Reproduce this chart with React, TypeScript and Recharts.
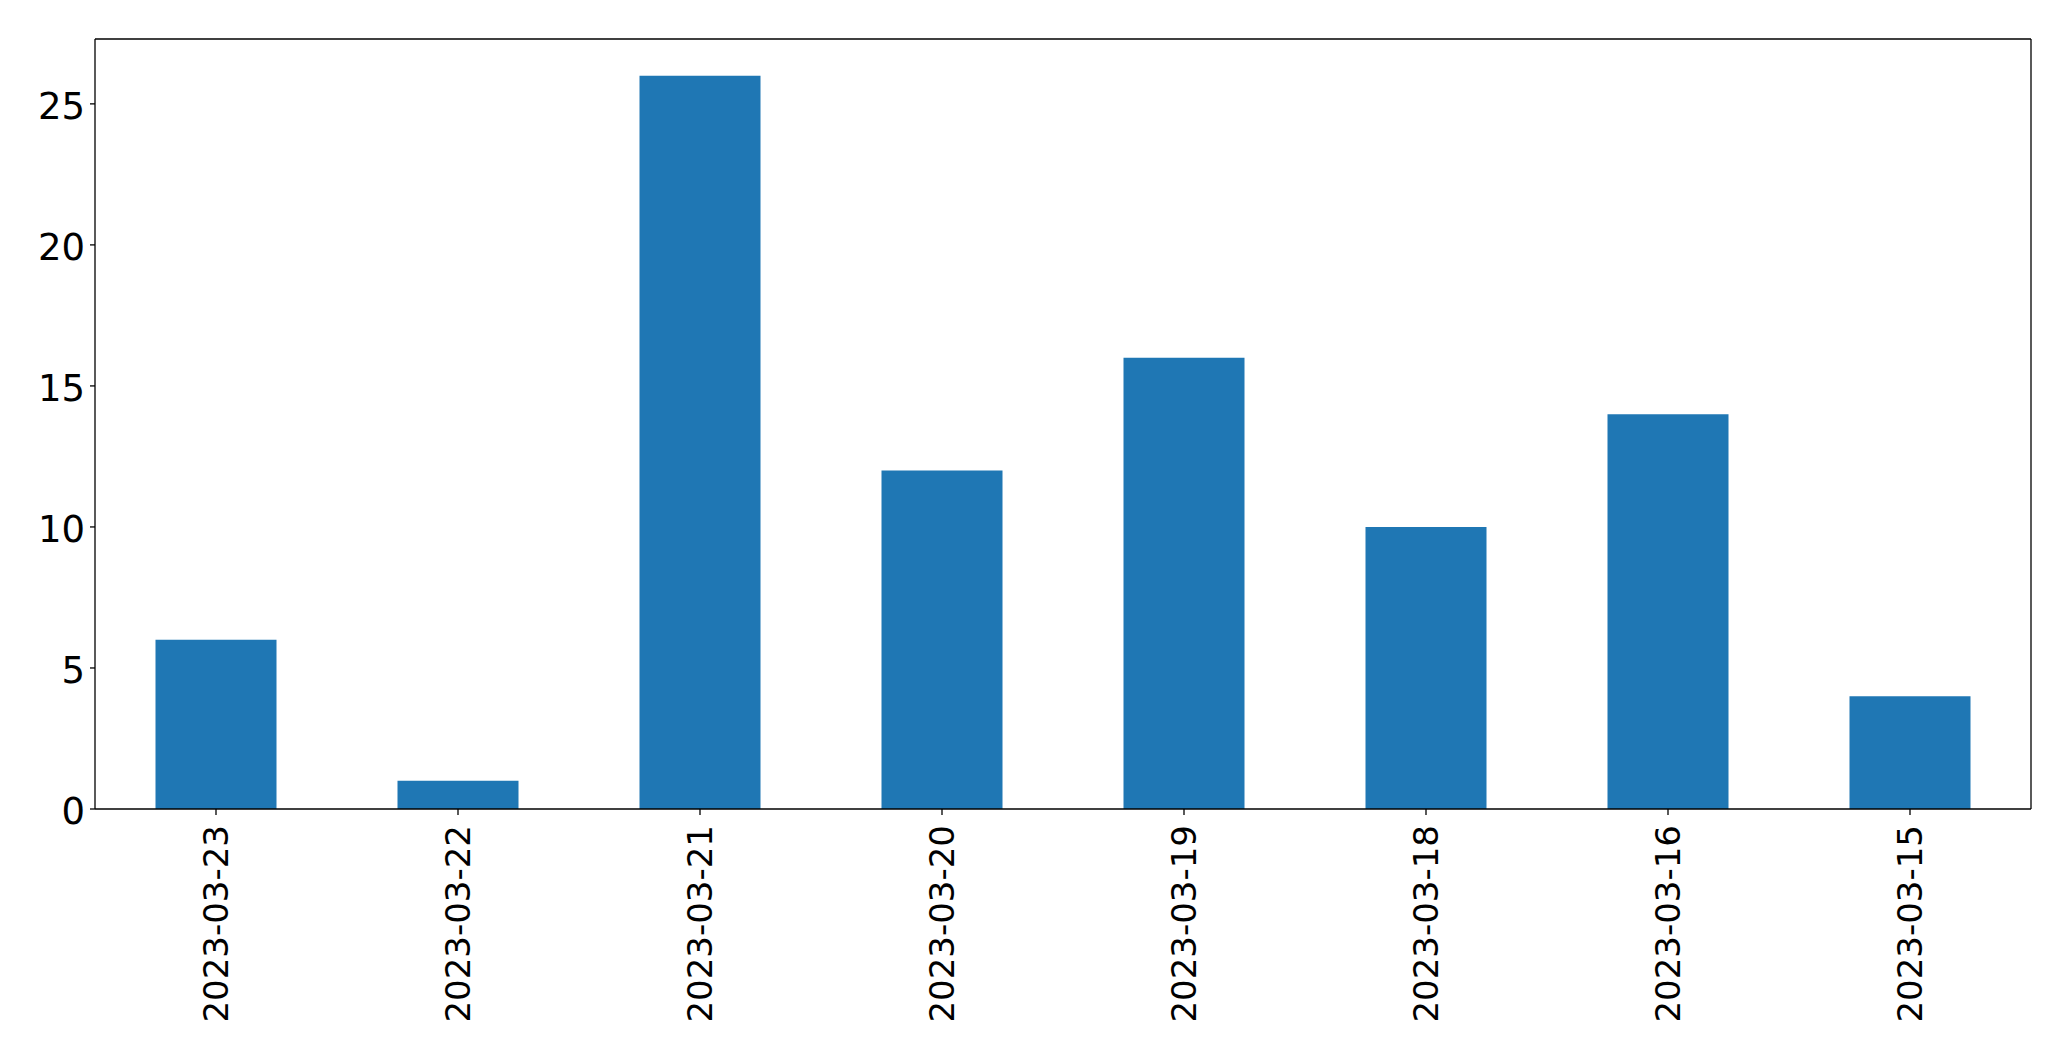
import { BarChart, Bar, XAxis, YAxis } from "recharts";

// daily counts, newest first (as in the source plot)
const dates = ["2023-03-23", "2023-03-22", "2023-03-21", "2023-03-20", "2023-03-19", "2023-03-18", "2023-03-16", "2023-03-15"];
const counts = [6, 1, 26, 12, 16, 10, 14, 4];
const yTicks = [0, 5, 10, 15, 20, 25];

const data = dates.map((d, i) => ({ date: d, count: counts[i] }));

const FONT = "'DejaVu Sans', sans-serif";
const AXIS = { stroke: "#000", strokeWidth: 1.3 };

function DateTick(props: any) {
  const { x, y, payload } = props;
  return (
    <g transform={`translate(${x},${y})`}>
      <text transform="rotate(-90)" x={0} y={0} dy="0.36em" textAnchor="end" fontSize={34} fontFamily={FONT} fill="#000">
        {payload.value}
      </text>
    </g>
  );
}

function CountTick(props: any) {
  const { x, y, payload } = props;
  return (
    <text x={x} y={y} dy="0.4em" textAnchor="end" fontSize={37} fontFamily={FONT} fill="#000">
      {payload.value}
    </text>
  );
}

export default function App() {
  return (
    <div style={{ width: 2055, height: 1045, background: "#fff" }}>
      <BarChart width={2055} height={1045} data={data} margin={{ top: 30, right: 31, bottom: 0, left: 0 }} barCategoryGap="25%">
        <XAxis
          dataKey="date"
          height={244}
          tickSize={6}
          tickMargin={10}
          interval={0}
          tick={<DateTick />}
          axisLine={AXIS}
          tickLine={AXIS}
        />
        <XAxis xAxisId="top" dataKey="date" orientation="top" height={1} tick={false} tickLine={false} axisLine={AXIS} />
        <YAxis
          width={87}
          domain={[0, 27.3]}
          ticks={yTicks}
          tickSize={5}
          tickMargin={5}
          allowDataOverflow
          tick={<CountTick />}
          axisLine={AXIS}
          tickLine={AXIS}
        />
        <YAxis yAxisId="right" orientation="right" width={1} domain={[0, 27.3]} tick={false} tickLine={false} axisLine={AXIS} />
        <Bar dataKey="count" fill="#1f77b4" isAnimationActive={false} />
      </BarChart>
    </div>
  );
}
